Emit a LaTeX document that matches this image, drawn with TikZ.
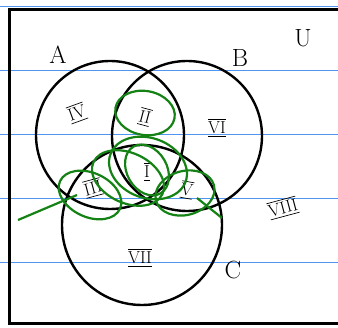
\documentclass[tikz,border=0pt]{standalone}
\usepackage{amsmath}
\usetikzlibrary{positioning}
\definecolor{ruled}{RGB}{80,150,240}
\definecolor{pen}{RGB}{20,130,20}

\begin{document}
\begin{tikzpicture}[x=1pt,y=-1pt,
  setc/.style={circle,draw,line width=2.4pt,inner sep=0pt,minimum size=#1},
  tag/.style={font=\Huge},
  num/.style={font=\LARGE},
  ring/.style={draw=pen,line width=2.2pt}]
  \useasboundingbox (0,0) rectangle (338,328);
  % ruled paper
  \foreach \y in {7,71,135,199,263}
    \draw[ruled,line width=1pt] (0,\y) -- (338,\y);
  \draw[line width=3pt] (340,10) -- (9,10) -- (9,324) -- (340,324);
  % the three sets
  \node[setc=148pt] (A) at (110,135) {};
  \node[setc=150pt] (B) at (187,136) {};
  \node[setc=160pt] (C) at (142,225) {};
  \node[tag] (la) at (58,55) {A};
  \node[tag] (lb) at (240,58) {B};
  \node[tag] (lc) at (233,270) {C};
  \node[tag] (lu) at (303,38) {U};
  % regions
  \node[num,rotate=20] (r4) at (77,113) {$\overline{\underline{\text{IV}}}$};
  \node[num,rotate=-15] (r2) at (145,117) {$\overline{\underline{\mathrm{II}}}$};
  \node[num] (r6) at (217,128) {$\overline{\underline{\mathrm{VI}}}$};
  \node[num] (r1) at (147,172) {$\overline{\underline{\mathrm{I}}}$};
  \node[num,rotate=15] (r3) at (93,188) {$\overline{\underline{\mathrm{III}}}$};
  \node[num,rotate=-10] (r5) at (187,190) {$\overline{\underline{\mathrm{V}}}$};
  \node[num,rotate=15] (r8) at (283,208) {$\overline{\underline{\mathrm{VIII}}}$};
  \node[num] (r7) at (140,258) {$\overline{\underline{\mathrm{VII}}}$};
  % green marks
  \draw[ring,rotate around={-10:(145,113)}] (145,113) ellipse (30pt and 22pt);
  \draw[ring,rotate around={-60:(147,170)}] (147,170) ellipse (27pt and 20pt);
  \draw[ring,rotate around={-20:(148,168)}] (148,168) ellipse (40pt and 30pt);
  \draw[ring,rotate around={-25:(128,178)}] (128,178) ellipse (38pt and 25pt);
  \draw[ring,rotate around={-25:(90,195)}] (90,195) ellipse (33pt and 22pt);
  \draw[ring,rotate around={15:(185,193)}] (185,193) ellipse (30pt and 22pt);
  \draw[ring] (18,220) -- (77,195);
  \draw[ring] (197,198) -- (222,218);
\end{tikzpicture}
\end{document}
